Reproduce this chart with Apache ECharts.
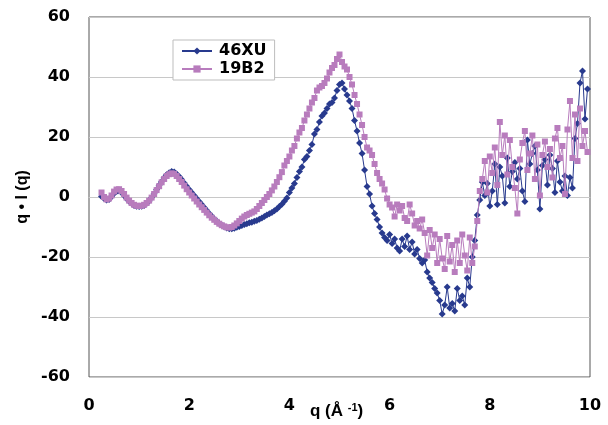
<!DOCTYPE html>
<html>
<head>
<meta charset="utf-8">
<script src="https://cdn.jsdelivr.net/npm/echarts@6/dist/echarts.min.js"></script>
<style>
  html, body { margin: 0; padding: 0; background: #fff; }
  #chart { width: 608px; height: 425px; }
</style>
</head>
<body>
<div id="chart"></div>
<script>
// q values (1/Å)
const qValues = [
  0.25, 0.30, 0.35, 0.40, 0.45, 0.50, 0.55, 0.60, 0.65, 0.70, 0.75, 0.80, 0.85, 0.90, 0.95,
  1.00, 1.05, 1.10, 1.15, 1.20, 1.25, 1.30, 1.35, 1.40, 1.45, 1.50, 1.55, 1.60, 1.65, 1.70, 1.75, 1.80, 1.85, 1.90, 1.95,
  2.00, 2.05, 2.10, 2.15, 2.20, 2.25, 2.30, 2.35, 2.40, 2.45, 2.50, 2.55, 2.60, 2.65, 2.70, 2.75, 2.80, 2.85, 2.90, 2.95,
  3.00, 3.05, 3.10, 3.15, 3.20, 3.25, 3.30, 3.35, 3.40, 3.45, 3.50, 3.55, 3.60, 3.65, 3.70, 3.75, 3.80, 3.85, 3.90, 3.95,
  4.00, 4.05, 4.10, 4.15, 4.20, 4.25, 4.30, 4.35, 4.40, 4.45, 4.50, 4.55, 4.60, 4.65, 4.70, 4.75, 4.80, 4.85, 4.90, 4.95,
  5.00, 5.05, 5.10, 5.15, 5.20, 5.25, 5.30, 5.35, 5.40, 5.45, 5.50, 5.55, 5.60, 5.65, 5.70, 5.75, 5.80, 5.85, 5.90, 5.95,
  6.00, 6.05, 6.10, 6.15, 6.20, 6.25, 6.30, 6.35, 6.40, 6.45, 6.50, 6.55, 6.60, 6.65, 6.70, 6.75, 6.80, 6.85, 6.90, 6.95,
  7.00, 7.05, 7.10, 7.15, 7.20, 7.25, 7.30, 7.35, 7.40, 7.45, 7.50, 7.55, 7.60, 7.65, 7.70, 7.75, 7.80, 7.85, 7.90, 7.95,
  8.00, 8.05, 8.10, 8.15, 8.20, 8.25, 8.30, 8.35, 8.40, 8.45, 8.50, 8.55, 8.60, 8.65, 8.70, 8.75, 8.80, 8.85, 8.90, 8.95,
  9.00, 9.05, 9.10, 9.15, 9.20, 9.25, 9.30, 9.35, 9.40, 9.45, 9.50, 9.55, 9.60, 9.65, 9.70, 9.75, 9.80, 9.85, 9.90, 9.95
];

// q*I(q), sample 46XU
const xu46 = [
  0.2, -0.5, -1.0, -0.8, 0.2, 1.2, 1.8, 2.0, 1.5, 0.5, -0.5, -1.4, -2.2, -2.8, -3.1,
  -3.2, -3.1, -2.8, -2.2, -1.3, -0.2, 1.1, 2.5, 3.9, 5.2, 6.4, 7.4, 8.1, 8.5, 8.3, 7.7, 6.8, 5.8, 4.7, 3.6,
  2.5, 1.5, 0.5, -0.5, -1.5, -2.5, -3.5, -4.5, -5.5, -6.4, -7.3, -8.1, -8.8, -9.4, -9.9, -10.3, -10.6, -10.6, -10.4, -10.1,
  -9.8, -9.5, -9.2, -8.9, -8.6, -8.4, -8.1, -7.8, -7.4, -7.0, -6.5, -6.0, -5.6, -5.2, -4.6, -4.0, -3.2, -2.4, -1.4, -0.3,
  1.5, 3.0, 4.5, 6.5, 8.5, 10.0, 12.5, 13.5, 15.5, 17.5, 21.0, 22.5, 25.0, 27.0, 28.0, 29.5, 31.0, 31.5, 33.0, 35.5,
  37.5, 38.0, 36.0, 34.0, 32.0, 29.5, 25.5, 22.0, 18.0, 14.5, 9.0, 3.5, 1.0, -3.0, -5.5, -7.5, -10.0, -12.0, -13.5, -14.5,
  -12.5, -15.5, -14.0, -17.0, -18.0, -14.0, -16.5, -13.0, -17.5, -15.0, -19.0, -17.5, -20.5, -22.0, -21.0, -25.0, -27.0, -28.5, -30.5, -32.0,
  -34.5, -39.0, -36.0, -30.0, -37.0, -35.5, -38.0, -30.5, -34.5, -33.0, -36.0, -27.0, -30.0, -20.0, -14.5, -6.0, -1.0, 5.0, 0.5, 4.5,
  -3.0, 2.0, 11.0, -2.5, 10.0, 7.0, -2.0, 13.0, 3.5, 8.5, 11.5, 6.0, 9.5, 2.0, -1.5, 19.0, 11.0, 14.5, 17.0, 9.0,
  -4.0, 10.5, 12.5, 4.0, 14.0, 9.5, 1.5, 12.0, 5.0, 2.0, 7.0, 0.5, 6.5, 3.0, 19.5, 24.5, 38.0, 42.0, 26.0, 36.0
];

// q*I(q), sample 19B2
const b19 = [
  1.5, 0.0, -0.8, -0.5, 0.5, 1.8, 2.5, 2.6, 2.0, 1.0, -0.2, -1.2, -2.0, -2.6, -2.9,
  -3.0, -2.9, -2.6, -2.0, -1.2, -0.2, 1.0, 2.3, 3.6, 4.9, 6.0, 7.0, 7.6, 7.9, 7.7, 7.0, 6.0, 5.0, 3.8, 2.6,
  1.5, 0.5, -0.5, -1.5, -2.5, -3.4, -4.3, -5.2, -6.1, -6.9, -7.6, -8.3, -8.9, -9.4, -9.8, -10.1, -10.2, -10.0, -9.5, -8.8,
  -8.0, -7.2, -6.5, -6.0, -5.6, -5.2, -4.8, -4.0, -3.0, -2.0, -1.0, 0.0, 1.0, 2.2, 3.5, 5.0, 6.6, 8.3, 10.5, 12.0,
  13.5, 15.5, 17.0, 19.5, 21.5, 23.0, 25.5, 27.5, 29.5, 31.5, 33.0, 35.5, 36.5, 37.0, 38.0, 39.5, 41.5, 43.0, 44.0, 46.0,
  47.5, 45.0, 43.5, 42.5, 40.0, 37.5, 34.0, 31.0, 27.5, 24.0, 20.0, 16.5, 15.5, 14.0, 11.0, 8.0, 6.0, 4.5, 2.5, -0.5,
  -2.5, -3.5, -6.5, -2.5, -4.5, -3.0, -7.0, -8.0, -2.5, -5.5, -9.5, -8.0, -10.5, -7.5, -12.0, -19.5, -11.0, -17.0, -12.5, -22.0,
  -14.0, -20.5, -24.0, -13.0, -21.5, -16.0, -25.0, -14.5, -22.0, -12.5, -19.5, -24.5, -13.5, -22.0, -16.5, -8.0, 2.0, 6.0, 12.0, 1.5,
  13.5, 8.0, 16.5, 4.0, 25.0, 14.0, 20.5, 7.5, 19.0, 10.0, 3.0, -5.5, 12.5, 18.0, 22.0, 9.0, 14.5, 20.5, 6.0, 17.5,
  0.5, 14.0, 18.5, 10.0, 16.0, 6.5, 19.5, 23.0, 13.0, 17.0, 1.0, 22.5, 32.0, 13.0, 27.5, 12.0, 29.5, 17.0, 22.0, 15.0
];

const seriesNames = ['46XU', '19B2'];
const yTicks = { min: -60, max: 60, step: 20 };
const xTicks = { min: 0, max: 10, step: 2 };

const pairs = (ys) => qValues.map((q, i) => [q, ys[i]]);

const chart = echarts.init(document.getElementById('chart'));
const tickFont = { fontFamily: 'DejaVu Sans', fontWeight: 'bold', fontSize: 16, color: '#000' };

chart.setOption({
  animation: false,
  backgroundColor: '#fff',
  grid: {
    left: 89, right: 18, top: 17, bottom: 48,
    show: true, borderColor: '#555', borderWidth: 1
  },
  legend: {
    orient: 'vertical',
    left: 173, top: 40,
    padding: [3, 8, 3, 8],
    itemGap: 2,
    itemWidth: 30, itemHeight: 9,
    borderColor: '#bdbdbd', borderWidth: 1,
    backgroundColor: '#fff',
    textStyle: { fontFamily: 'DejaVu Sans', fontWeight: 'bold', fontSize: 16, color: '#000', padding: [0, 0, 0, 2] },
    data: seriesNames
  },
  xAxis: {
    type: 'value',
    min: xTicks.min, max: xTicks.max, interval: xTicks.step,
    axisLine: { onZero: true, lineStyle: { color: '#c8c8c8', width: 1 } },
    axisTick: { show: false },
    splitLine: { show: false },
    axisLabel: Object.assign({ margin: 21 }, tickFont)
  },
  yAxis: {
    type: 'value',
    min: yTicks.min, max: yTicks.max, interval: yTicks.step,
    name: 'q • I (q)',
    nameLocation: 'middle',
    nameGap: 51,
    nameTextStyle: { fontFamily: 'Liberation Sans', fontWeight: 'bold', fontSize: 16, color: '#000' },
    axisLine: { show: false },
    axisTick: { show: false },
    splitLine: { lineStyle: { color: '#c8c8c8', width: 1 } },
    axisLabel: Object.assign({ margin: 19 }, tickFont)
  },
  graphic: [{
    type: 'text',
    left: 310, top: 402,
    style: {
      text: '{a|q (Å }{b|-1}{a|)}',
      rich: {
        a: { fontFamily: 'Liberation Sans', fontWeight: 'bold', fontSize: 17, fill: '#000' },
        b: { fontFamily: 'Liberation Sans', fontWeight: 'bold', fontSize: 11, fill: '#000', verticalAlign: 'top', padding: [0, 0, 8, 0] }
      }
    }
  }],
  series: [
    {
      name: seriesNames[0],
      type: 'line',
      data: pairs(xu46),
      symbol: 'diamond',
      symbolSize: 7,
      showAllSymbol: true,
      itemStyle: { color: '#283a8e' },
      lineStyle: { color: '#283a8e', width: 1 },
      z: 2
    },
    {
      name: seriesNames[1],
      type: 'line',
      data: pairs(b19),
      symbol: 'rect',
      symbolSize: 6,
      showAllSymbol: true,
      itemStyle: { color: '#b87cbd' },
      lineStyle: { color: '#b87cbd', width: 1 },
      z: 3
    }
  ]
});
</script>
</body>
</html>
